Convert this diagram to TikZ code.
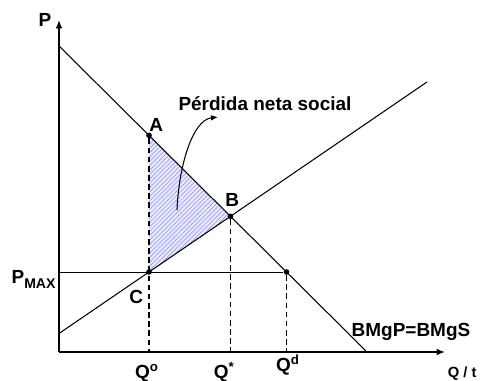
\documentclass[tikz,border=0pt]{standalone}
\usepackage{fontspec}
\setmainfont{Liberation Sans}
\usetikzlibrary{positioning,calc,arrows.meta,patterns.meta}

\begin{document}
\begin{tikzpicture}[
    lbl/.style={font=\fontsize{13.5}{16}\selectfont\bfseries, inner sep=0pt},
    qlbl/.style={lbl, anchor=base},
    curve/.style={line width=0.75pt},
    guide/.style={line width=0.9pt, dash pattern=on 4pt off 2.5pt},
    pt/.style={circle, fill, inner sep=0pt, minimum size=4pt},
    axis/.style={line width=1.6pt, -{Latex[length=6pt,width=5pt]}}]
\useasboundingbox (-1.475,-0.725) rectangle (10.525,8.8);
\coordinate (O) at (0,0);
\coordinate (ytop) at (0,8.3);
\coordinate (xend) at (9.65,0);
\coordinate (d0) at (0,7.65);
\coordinate (d1) at (7.7,0);
\coordinate (s0) at (0,0.462);
\coordinate (s1) at (9.2,6.75);
\coordinate (pm) at (0,2);
\coordinate (qo) at (2.25,0);
\coordinate (qs) at (4.286,0);
\coordinate (qd) at (5.687,0);
\coordinate (pn0) at (2.95,3.55);
\coordinate (pn1) at (3.975,5.875);

% loss triangle
\fill[blue!8] (2.25,5.415) -- (4.286,3.392) -- (2.25,2) -- cycle;
\fill[pattern={Lines[angle=45,distance=2.2pt,line width=0.5pt]}, pattern color=blue!40] (2.25,5.415) -- (4.286,3.392) -- (2.25,2) -- cycle;

\node[pt] (A) at (2.25,5.415) {};
\node[pt] (B) at (4.286,3.392) {};
\node[pt] (C) at (2.25,2) {};
\node[pt] (D) at (5.687,2) {};

\draw[curve] (d0) -- (d1);
\draw[curve] (s0) -- (s1);
\draw[line width=0.6pt] (pm) -- (D);
\draw[guide] (A) -- (qo);
\draw[guide] (B) -- (qs);
\draw[guide] (D) -- (qd);
\draw[axis] (O) -- (ytop);
\draw[axis] (O) -- (xend);
\draw[curve, -{Latex[length=5pt,width=4pt]}] (pn0) .. controls (3.0,4.7) and (3.35,5.8) .. (pn1);

\node[lbl] (lP) at (-0.35,8.3) {P};
\node[lbl] (lA) at (2.43,5.68) {A};
\node[lbl] (lB) at (4.33,3.8) {B};
\node[lbl] (lC) at (1.93,1.37) {C};
\node[lbl, anchor=base east] (lpm) at (-0.08,1.72) {P\raisebox{-4pt}{\fontsize{10}{12}\selectfont MAX}};
\node[qlbl] (lqo) at (2.2,-0.66) {Q\textsuperscript{o}};
\node[qlbl] (lqs) at (4.13,-0.66) {Q\textsuperscript{*}};
\node[qlbl] (lqd) at (5.72,-0.5) {Q\textsuperscript{d}};
\node[lbl, font=\fontsize{10.5}{12}\selectfont\bfseries] (lqt) at (10.08,-0.53) {Q / t};
\node[lbl] (lbm) at (8.8,0.5) {BMgP=BMgS};
\node[lbl] (lpn) at (5.15,6.2) {Pérdida neta social};
\end{tikzpicture}
\end{document}
